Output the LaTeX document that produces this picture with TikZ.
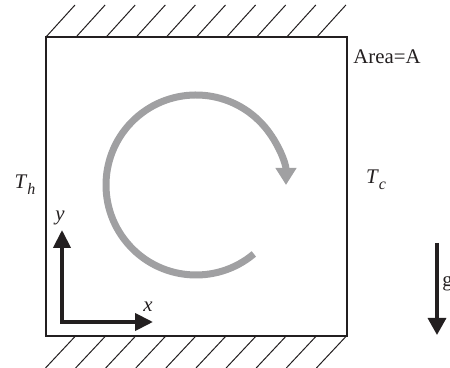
\documentclass[tikz,border=0pt]{standalone}
\usepackage{fontspec}
\setmainfont{Liberation Serif}
\usetikzlibrary{arrows.meta}
\definecolor{giro}{HTML}{A0A0A2}
\definecolor{tinta}{HTML}{231F20}

\begin{document}
\begin{tikzpicture}[x=0.5pt,y=0.5pt,font=\fontsize{10.4}{12}\selectfont,
  parede/.style={tinta, line width=0.5pt},
  eixo/.style={tinta, line width=2pt, line join=miter},
  ponta/.style={Triangle[length=9pt,width=8.5pt]},
  rotulo/.style={inner sep=0pt, text=tinta}]
\useasboundingbox (0,0) rectangle (450,368);
% cavidade
\coordinate (sw) at (46,32);
\coordinate (ne) at (347,331);
\draw[tinta, line width=1pt] (sw) rectangle (ne);
% paredes (hachura em cima e embaixo)
\foreach \i in {0,...,9} \draw[parede] (46+30.1*\i,331) -- ++(29,32);
\foreach \i in {0,...,9} \draw[parede] (75.5+30.1*\i,32) -- ++(-30,-32);
% circulacao
\coordinate (centro) at (196,183);
\draw[giro, line width=3.5pt, -{Triangle[length=8.5pt,width=10pt]}]
  (centro) ++(-50:90) arc[start angle=-50, end angle=-360, radius=90];
% eixos
\coordinate (O) at (62,46);
\coordinate (ytip) at (62,138);
\coordinate (xtip) at (153,46);
\draw[eixo, {Triangle[length=9pt,width=8.5pt]}-{Triangle[length=9pt,width=8.5pt]}] (ytip) -- (O) -- (xtip);
\node[rotulo] (ly) at (60,150) {\textit{y}};
\node[rotulo] (lx) at (148,61) {\textit{x}};
% temperaturas e area
\node[rotulo] (Th) at (25,183) {\textit{T}\raisebox{-0.6ex}{\footnotesize\textit{h}}};
\node[rotulo] (Tc) at (376,188) {\textit{T}\raisebox{-0.6ex}{\footnotesize\textit{c}}};
\node[rotulo] (area) at (387,311) {Area=A};
% gravidade
\coordinate (gtop) at (437,125);
\coordinate (gtip) at (437,33);
\draw[tinta, line width=1.7pt, -{Triangle[length=8.5pt,width=9pt]}] (gtop) -- (gtip);
\node[rotulo, anchor=west] (lg) at (442,85) {g};
\end{tikzpicture}
\end{document}
